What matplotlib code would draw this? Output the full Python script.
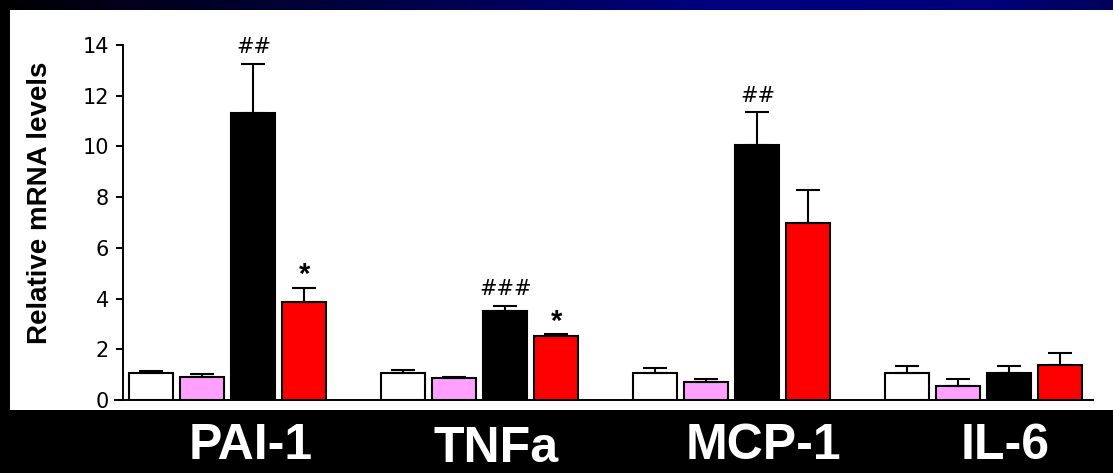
import numpy as np
import matplotlib.pyplot as plt
from matplotlib.patches import Rectangle

genes = ['PAI-1', 'TNFa', 'MCP-1', 'IL-6']
groups = ['control', 'control + drug', 'model', 'model + drug']
colors = ['white', '#FFA0FF', 'black', '#FF0000']

# mean relative expression per group (rows) and gene (columns)
means = [
    [1.05, 1.05, 1.05, 1.05],
    [0.92, 0.85, 0.70, 0.57],
    [11.3, 3.52, 10.05, 1.05],
    [3.85, 2.52, 7.0, 1.39],
]
sems = [
    [0.08, 0.15, 0.20, 0.28],
    [0.12, 0.05, 0.13, 0.26],
    [1.95, 0.20, 1.30, 0.28],
    [0.57, 0.08, 1.28, 0.45],
]
# significance marks: (group index, gene index, text)
marks = [(2, 0, '##'), (3, 0, '*'), (2, 1, '###'), (3, 1, '*'), (2, 2, '##')]

W, H = 1113, 473
fig = plt.figure(figsize=(W / 100, H / 100), dpi=100, facecolor='black')

# navy strip along the top
band = fig.add_axes([0, 1 - 10 / H, 1, 10 / H])
xs = np.linspace(0, 1, 600)
blue = np.interp(xs, [0, 0.08, 0.35, 0.65, 0.9, 1.0], [0, 20, 70, 128, 120, 90]) / 255
grad = np.zeros((1, len(xs), 3))
grad[0, :, 2] = blue
band.imshow(grad, aspect='auto', extent=[0, 1, 0, 1])
band.axis('off')

# white panel behind the plot
fig.patches.append(Rectangle((10 / W, (H - 410) / H), 1 - 10 / W, 400 / H,
                             transform=fig.transFigure, facecolor='white',
                             edgecolor='none', zorder=-1))

ax = fig.add_axes([115 / W, 73 / H, (1093 - 115) / W, 355 / H])
ax.set_facecolor('none')
ax.set_zorder(2)

x = np.arange(len(genes))
step = 0.2024
width = 0.175
for i in range(len(groups)):
    ax.bar(x + (i - 1.5) * step, means[i], width, color=colors[i],
           edgecolor='black', linewidth=1.5,
           yerr=[np.zeros(len(genes)), sems[i]], capsize=8.6,
           error_kw=dict(elinewidth=1.5, capthick=1.5, ecolor='black'))

for g, k, txt in marks:
    top = means[g][k] + sems[g][k]
    if txt == '*':
        ax.annotate(txt, (k + (g - 1.5) * step, top), xytext=(0, 9),
                    textcoords='offset points', ha='center', va='center',
                    fontsize=21, fontweight='bold', family='Liberation Sans')
    else:
        ax.annotate(txt, (k + (g - 1.5) * step, top), xytext=(0, 12),
                    textcoords='offset points', ha='center', va='center',
                    fontsize=15, family='DejaVu Sans')

ax.set_xlim(-0.448, 3.433)
ax.set_ylim(0, 14)
ax.set_yticks(range(0, 15, 2))
ax.set_xticks([])
for s in ['top', 'right']:
    ax.spines[s].set_visible(False)
ax.spines['left'].set_position(('data', -0.417))
ax.spines['left'].set_linewidth(1.4)
ax.spines['bottom'].set_linewidth(1.4)
ax.tick_params(axis='y', direction='out', length=5, width=1.4, pad=5,
               labelsize=15)
for lab in ax.get_yticklabels():
    lab.set_family('DejaVu Sans')

fig.text(40 / W, 1 - 203 / H, 'Relative mRNA levels', rotation=90,
         ha='center', va='center', fontsize=20, fontweight='bold',
         family='Liberation Sans', color='black', zorder=3)

# gene names under the panel (TNFa sits lower than the rest)
label_px = [(251, 446, 'center'), (496, 472, 'bottom'),
            (763, 446, 'center'), (1005, 446, 'center')]
for name, (px, py, va) in zip(genes, label_px):
    fig.text(px / W, 1 - py / H, name, ha='center', va=va,
             fontsize=36, fontweight='bold', family='Liberation Sans',
             color='white')

fig.savefig('out.png', dpi=100, facecolor='black')
